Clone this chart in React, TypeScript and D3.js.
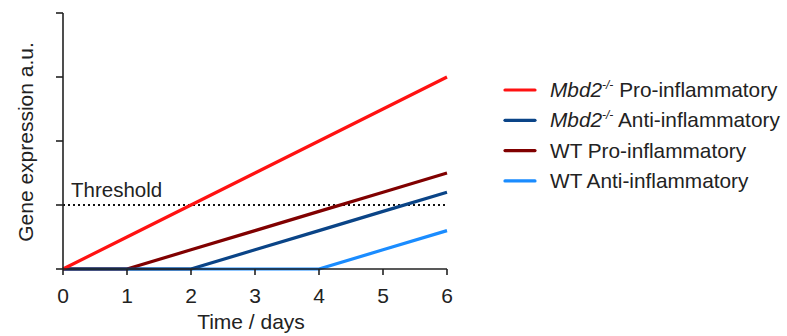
import React from "react";
import * as d3 from "d3";

const days = [0, 1, 2, 3, 4, 5, 6];
const mbd2Pro = [0, 0.5, 1, 1.5, 2, 2.5, 3];
const wtPro = [0, 0, 0.3, 0.6, 0.9, 1.2, 1.5];
const mbd2Anti = [0, 0, 0, 0.3, 0.6, 0.9, 1.2];
const wtAnti = [0, 0, 0, 0, 0, 0.3, 0.6];
const xTicks = [0, 1, 2, 3, 4, 5, 6];
const yTicks = [0, 1, 2, 3, 4];
const threshold = 1;

const seriesNames = ["Mbd2 Pro", "Mbd2 Anti", "WT Pro", "WT Anti"];

const W = 787;
const H = 336;

const colors: Record<string, string> = {
  "Mbd2 Pro": "#ff1212",
  "Mbd2 Anti": "#0a4487",
  "WT Pro": "#800000",
  "WT Anti": "#1a8cff",
};

export default function App() {
  const x = d3.scaleLinear().domain([0, 6]).range([63, 447]);
  const y = d3.scaleLinear().domain([0, 4]).range([269, 13]);
  const line = d3
    .line<number>()
    .x((_, i) => x(days[i]))
    .y((v) => y(v));

  const data: Record<string, number[]> = {
    "Mbd2 Pro": mbd2Pro,
    "Mbd2 Anti": mbd2Anti,
    "WT Pro": wtPro,
    "WT Anti": wtAnti,
  };
  const drawOrder = ["WT Anti", "WT Pro", "Mbd2 Anti", "Mbd2 Pro"];
  const font = "'Liberation Sans', Arial, Helvetica, sans-serif";
  const axisColor = "#222";
  const x0 = x(0);
  const x1 = x(6);
  const y0 = y(0);

  return (
    <svg
      width={W}
      height={H}
      style={{ position: "fixed", left: 0, top: 0, background: "#fff" }}
      fontFamily={font}
    >
      {/* threshold */}
      <line
        x1={x0}
        x2={x1}
        y1={y(threshold)}
        y2={y(threshold)}
        stroke="#111"
        strokeWidth={2}
        strokeDasharray="2,3"
      />
      <text x={x0 + 8} y={y(threshold) - 8} fontSize={20.5} fill="#222">
        Threshold
      </text>

      {/* lines */}
      {drawOrder.map((k) => (
        <path
          key={k}
          d={line(data[k]) || ""}
          fill="none"
          stroke={colors[k]}
          strokeWidth={3.2}
          strokeLinejoin="round"
        />
      ))}

      {/* y axis */}
      <line x1={x0} x2={x0} y1={y(4)} y2={y0} stroke={axisColor} strokeWidth={1.6} />
      {yTicks.map((t) => (
        <line key={t} x1={x0 - 7} x2={x0} y1={y(t)} y2={y(t)} stroke={axisColor} strokeWidth={1.6} />
      ))}
      {/* x axis */}
      <line x1={x0} x2={x1} y1={y0} y2={y0} stroke={axisColor} strokeWidth={1.6} />
      {xTicks.map((t) => (
        <g key={t}>
          <line x1={x(t)} x2={x(t)} y1={y0} y2={y0 + 6} stroke={axisColor} strokeWidth={1.6} />
          <text x={x(t)} y={y0 + 34} fontSize={21} textAnchor="middle" fill="#222">
            {t}
          </text>
        </g>
      ))}

      <text x={(x0 + x1) / 2 - 4} y={329} fontSize={21} textAnchor="middle" fill="#222">
        Time / days
      </text>
      <text
        transform={`translate(33, ${(y(4) + y0) / 2 + 1}) rotate(-90)`}
        fontSize={21}
        textAnchor="middle"
        fill="#222"
      >
        Gene expression a.u.
      </text>

      {/* legend */}
      {seriesNames.map((k, i) => {
        const ly = 90 + i * 30.3;
        const isMbd = k.startsWith("Mbd2");
        const rest = k.endsWith("Pro") ? "Pro-inflammatory" : "Anti-inflammatory";
        return (
          <g key={k}>
            <line x1={505} x2={535} y1={ly} y2={ly} stroke={colors[k]} strokeWidth={3.2} strokeLinecap="round" />
            <text x={550} y={ly + 7} fontSize={20.8} fill="#222">
              {isMbd ? (
                <>
                  <tspan fontStyle="italic">Mbd2</tspan>
                  <tspan fontStyle="italic" fontSize={12} dy={-8}>
                    -/-
                  </tspan>
                  <tspan dy={8}>{" " + rest}</tspan>
                </>
              ) : (
                <tspan>{"WT " + rest}</tspan>
              )}
            </text>
          </g>
        );
      })}
    </svg>
  );
}
